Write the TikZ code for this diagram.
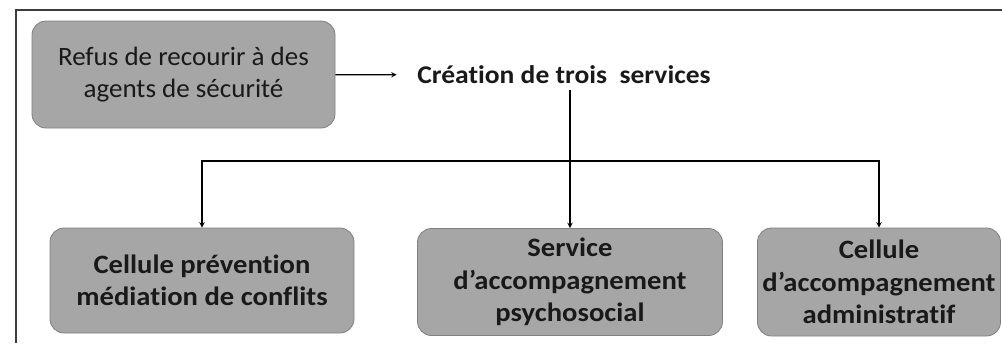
\documentclass[tikz,border=0pt]{standalone}
\usepackage{fontspec}
\setmainfont{Carlito}[Ligatures={TeX,NoCommon}, FakeStretch=1.02]
\newfontfamily\boldstretch{Carlito}[Ligatures={TeX,NoCommon}, FakeStretch=1.08]
\usepackage{xcolor}
\usetikzlibrary{arrows,positioning,calc}
\definecolor{boxgray}{RGB}{166,166,166}
\definecolor{boxedge}{RGB}{128,128,128}
\definecolor{framegray}{RGB}{60,60,60}
\definecolor{inkblack}{RGB}{25,25,25}

\begin{document}
\begin{tikzpicture}[
    x=1pt, y=-1pt,
    >=stealth,
    line width=1.4pt,
    box/.style={rectangle, rounded corners=14pt, fill=boxgray, draw=boxedge,
      line width=0.8pt, align=center, inner sep=0pt, text=inkblack,
      font=\fontsize{26.5}{31.5}\selectfont},
    bbox/.style={box, font=\fontsize{26.5}{32.5}\selectfont\boldstretch\bfseries}
]
  \useasboundingbox (0,0) rectangle (1002,343);

  % frame
  \draw[framegray, line width=1.3pt] (1002,10) -- (16,10) -- (16,343);

  % nodes
  \node[box, minimum width=303pt, minimum height=107pt] (refus) at (183.5,74.5)
    {Refus de recourir à des\\agents de sécurité};
  \node[inner xsep=20pt, inner ysep=5pt, text=inkblack,
    font=\fontsize{25.5}{31}\selectfont\boldstretch\bfseries] (creation) at (564,75)
    {Création de trois\ \ services};
  \node[bbox, minimum width=304pt, minimum height=105pt] (cellule) at (202,280.5)
    {Cellule prévention\\médiation de conflits};
  \node[bbox, minimum width=305pt, minimum height=107pt] (service) at (570,282)
    {Service\\d’accompagnement\\psychosocial};
  \node[bbox, minimum width=243pt, minimum height=108pt] (admin) at (879,282)
    {Cellule\\d’accompagnement\\administratif};
  \coordinate (split) at (570,161);

  % edges
  \draw[->] (refus) -- (creation);
  \draw[->] (creation.south -| split) -- (service.north);
  \draw[->] (split) -| (cellule.north);
  \draw[->] (split) -| (admin.north);
\end{tikzpicture}
\end{document}
